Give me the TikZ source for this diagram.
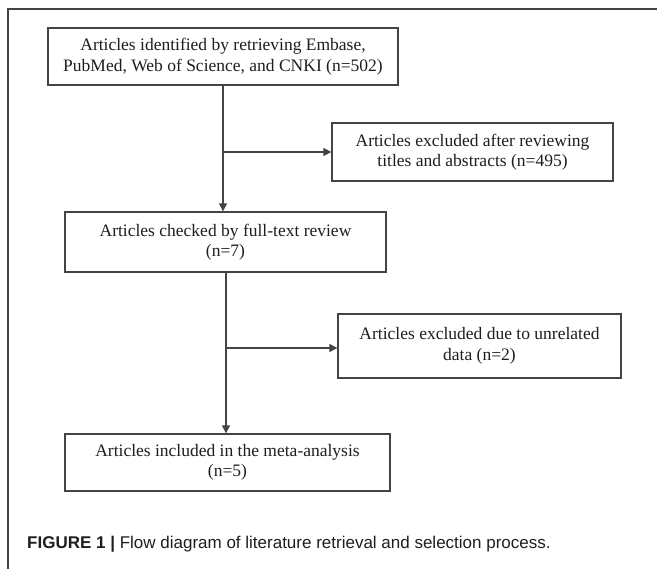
\documentclass[tikz,border=0pt]{standalone}
\usepackage{fontspec}
\setmainfont{Liberation Serif}
\setsansfont{Liberation Sans}
\usetikzlibrary{positioning, arrows.meta}
\definecolor{linegray}{HTML}{444444}
\definecolor{textgray}{HTML}{1E1E1E}
\tikzset{%
  block/.style    = {draw = linegray, line width = 1.3pt, rectangle, align = center,
    inner sep = 0pt, text = textgray, font = \fontsize{17.5}{20.5}\selectfont},
  flow/.style     = {draw = linegray, line width = 1.1pt,
    -{Triangle[length = 8pt, width = 8pt]}}, % Connector
  junction/.style = {coordinate} % Branch point
}

\begin{document}
\begin{tikzpicture}[x = 1pt, y = -1pt]
\useasboundingbox (0,0) rectangle (657,569);
%frame
\draw[linegray, line width = 1.1pt] (657,9) -- (8,9) -- (8,569);
%selection blocks
\draw
	(223,56.5) node [block, minimum width = 350pt, minimum height = 57pt] (ident)
		{Articles identified by retrieving Embase,\\PubMed, Web of Science, and CNKI (n=502)}
	(472.5,152) node [block, minimum width = 281pt, minimum height = 58pt] (excl1)
		{Articles excluded after reviewing\\titles and abstracts (n=495)}
	(225.5,242) node [block, minimum width = 321pt, minimum height = 60pt] (check)
		{Articles checked by full-text review\\(n=7)}
	(479.5,346) node [block, minimum width = 283pt, minimum height = 64pt] (excl2)
		{Articles excluded due to unrelated\\data (n=2)}
	(227.5,462.5) node [block, minimum width = 325pt, minimum height = 57pt] (incl)
		{Articles included in the meta-analysis\\(n=5)};
%branch points
\coordinate (j1) at (ident.south |- excl1.west);
\coordinate (j2) at (226,348);
%selection lines
\draw[flow] (ident.south) -- (ident.south |- check.north);
\draw[flow] (j1) -- (excl1.west);
\draw[flow] (j2 |- check.south) -- (j2 |- incl.north);
\draw[flow] (j2) -- (j2 -| excl2.west);
%caption
\node[anchor = west, inner sep = 0pt, text = textgray, font = \sffamily\fontsize{17}{20}\selectfont] (caption)
	at (27,544) {\textbf{FIGURE 1 |} Flow diagram of literature retrieval and selection process.};
\end{tikzpicture}
\end{document}
